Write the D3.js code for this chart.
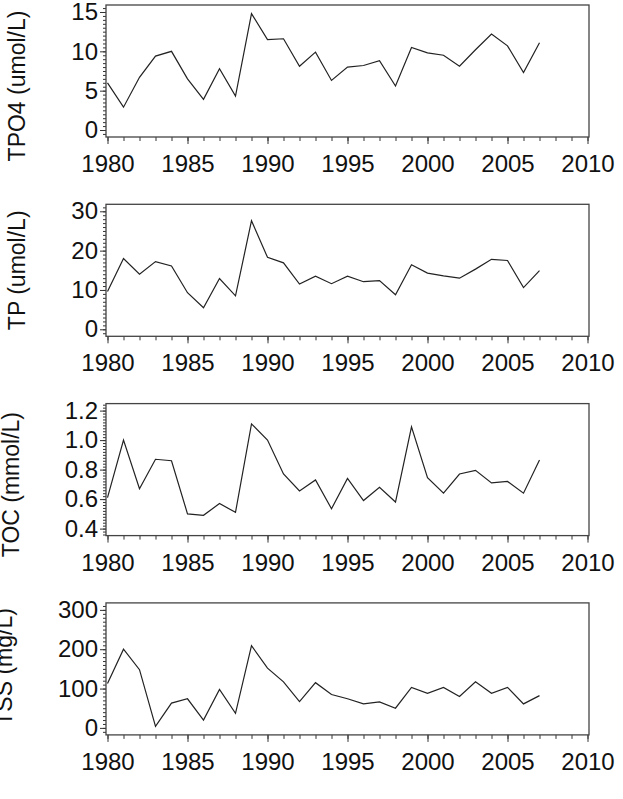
<!DOCTYPE html>
<html lang="en">
<head>
<meta charset="UTF-8">
<script src="https://d3js.org/d3.v7.min.js"></script>
<style>
  body { margin: 0; background: #fff; }
  svg text { font-family: "Liberation Sans", Arial, sans-serif; fill: #111; }
</style>
</head>
<body>
<svg id="chart" width="623" height="799"></svg>
<script>
// data
var years = [1980, 1981, 1982, 1983, 1984, 1985, 1986, 1987, 1988, 1989,
  1990, 1991, 1992, 1993, 1994, 1995, 1996, 1997, 1998, 1999,
  2000, 2001, 2002, 2003, 2004, 2005, 2006, 2007];

var tpo4 = [6.0, 2.9, 6.7, 9.4, 10.0, 6.5, 3.9, 7.8, 4.3, 14.8,
  11.5, 11.6, 8.1, 9.9, 6.3, 8.0, 8.2, 8.8, 5.6, 10.5,
  9.8, 9.5, 8.1, 10.2, 12.2, 10.7, 7.3, 11.1];

var tp = [9.6, 18.0, 14.0, 17.2, 16.1, 9.3, 5.5, 12.9, 8.5, 27.6,
  18.3, 16.9, 11.5, 13.5, 11.6, 13.5, 12.1, 12.4, 8.8, 16.4,
  14.3, 13.6, 13.0, 15.3, 17.8, 17.5, 10.6, 14.9];

var toc = [0.61, 1.0, 0.67, 0.87, 0.86, 0.50, 0.49, 0.57, 0.51, 1.11,
  1.0, 0.77, 0.655, 0.73, 0.535, 0.74, 0.59, 0.68, 0.58, 1.09,
  0.745, 0.64, 0.77, 0.795, 0.71, 0.72, 0.64, 0.865];

var tss = [113, 200, 148, 4, 63, 74, 20, 98, 37, 209,
  152, 117, 67, 115, 85, 74, 61, 66, 50, 103,
  88, 103, 80, 117, 88, 103, 61, 82];

var xTicks = [1980, 1985, 1990, 1995, 2000, 2005, 2010];

var labels = ["TPO4 (umol/L)", "TP (umol/L)", "TOC (mmol/L)", "TSS (mg/L)"];
var yTickSets = [
  [0, 5, 10, 15],
  [0, 10, 20, 30],
  [0.4, 0.6, 0.8, 1.0, 1.2],
  [0, 100, 200, 300]
];
var minorSteps = [0.5, 1, 0.02, 10];
var series = [tpo4, tp, toc, tss];

// layout
var boxLeft = 106, boxRight = 589, boxH = 132, pad = 7;
var panelTops = [5, 204.3, 403.6, 602.9];
var labelShift = [15, 0, 15, -2];

var svg = d3.select("#chart");

var x = d3.scaleLinear().domain([1980, 2010]).range([boxLeft + 1.5, boxRight - 1.5]);

series.forEach(function (vals, i) {
  var top = panelTops[i];
  var g = svg.append("g").attr("transform", "translate(0," + top + ")");
  var ticks = yTickSets[i];

  var y = d3.scaleLinear()
    .domain([ticks[0], ticks[ticks.length - 1]])
    .range([boxH - pad, pad]);

  // minor ticks over the whole box height
  var lo = y.invert(boxH), hi = y.invert(0), step = minorSteps[i];
  var minor = [];
  for (var k = Math.ceil(lo / step - 1e-6); k * step <= hi + 1e-9; k++) {
    minor.push(k * step);
  }

  g.append("g")
    .attr("transform", "translate(" + boxLeft + ",0)")
    .call(d3.axisLeft(y).tickValues(minor).tickSize(3).tickFormat(""))
    .call(function (a) { a.select(".domain").remove(); });

  var yAxis = g.append("g")
    .attr("transform", "translate(" + boxLeft + ",0)")
    .call(d3.axisLeft(y).tickValues(ticks).tickSize(6).tickPadding(2)
      .tickFormat(i === 2 ? d3.format(".1f") : d3.format("d")));
  yAxis.select(".domain").remove();
  yAxis.selectAll("text").style("font-size", "24px");

  // x axis
  g.append("g")
    .attr("transform", "translate(0," + boxH + ")")
    .call(d3.axisBottom(x).tickValues(d3.range(1980, 2011)).tickSize(4).tickFormat(""))
    .call(function (a) { a.select(".domain").remove(); });

  var xAxis = g.append("g")
    .attr("transform", "translate(0," + boxH + ")")
    .call(d3.axisBottom(x).tickValues(xTicks).tickSize(7).tickPadding(11).tickFormat(d3.format("d")));
  xAxis.select(".domain").remove();
  xAxis.selectAll("text").style("font-size", "24px");

  g.selectAll(".tick line").attr("stroke", "#333").attr("stroke-width", 1);

  // plot frame
  g.append("rect")
    .attr("x", boxLeft)
    .attr("y", 0)
    .attr("width", boxRight - boxLeft)
    .attr("height", boxH)
    .attr("fill", "none")
    .attr("stroke", "#444")
    .attr("stroke-width", 1.3);

  var line = d3.line()
    .x(function (d, j) { return x(years[j]); })
    .y(function (d) { return y(d); });

  g.append("path")
    .datum(vals)
    .attr("d", line)
    .attr("fill", "none")
    .attr("stroke", "#222")
    .attr("stroke-width", 1.2);

  // y label, placed left of the widest tick label
  var tickLeft = d3.min(yAxis.selectAll("text").nodes(), function (n) {
    return boxLeft + n.getBBox().x - 8;
  });
  var lx = tickLeft - 38;
  var ly = boxH / 2 + labelShift[i];
  g.append("text")
    .attr("transform", "translate(" + lx + "," + ly + ") rotate(-90)")
    .attr("text-anchor", "middle")
    .style("font-size", "23px")
    .text(labels[i]);
});
</script>
</body>
</html>
